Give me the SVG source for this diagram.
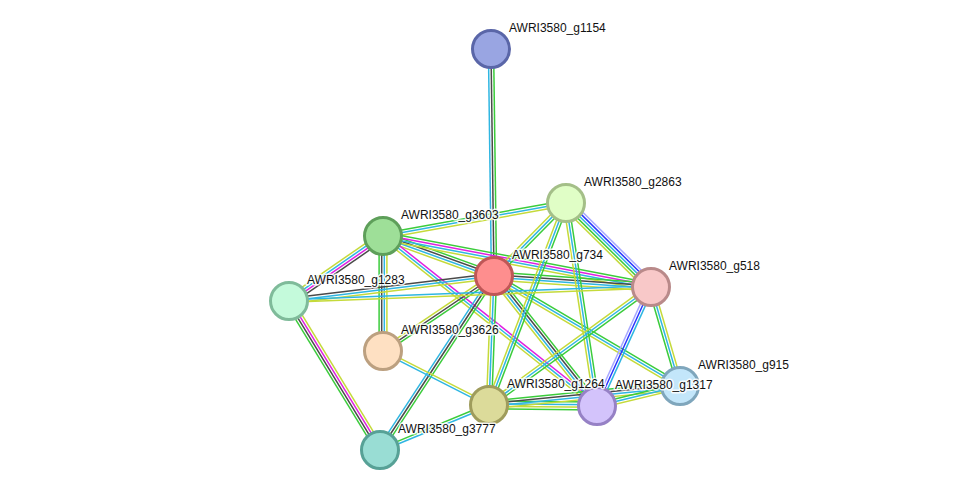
<svg xmlns="http://www.w3.org/2000/svg" width="976" height="496" viewBox="0 0 976 496">
<style>
line{stroke-width:1.5;fill:none}
.g{stroke:#3bcc3b}.k{stroke:#4a4a4a}.c{stroke:#2fb6e2}.y{stroke:#c5da3a}.m{stroke:#e020e0}.b{stroke:#2a35ff}.p{stroke:#a8a8ff}
.n circle{stroke-width:3}
text{font-family:"Liberation Sans",Arial,sans-serif;font-size:12px;fill:#111;stroke:#fff;stroke-width:3;stroke-opacity:0.85;paint-order:stroke;stroke-linejoin:round}
</style>
<rect width="976" height="496" fill="#fff"/>
<g id="connectors">
<g transform="translate(491 49) rotate(89.24)"><line x2="227" y1="-2.6" y2="-2.6" class="g"/><line x2="227" class="k"/><line x2="227" y1="2.6" y2="2.6" class="c"/></g>
<g transform="translate(383 236) rotate(-10.22)"><line x2="186" y1="-2.6" y2="-2.6" class="g"/><line x2="186" class="c"/><line x2="186" y1="2.6" y2="2.6" class="y"/></g>
<g transform="translate(383 236) rotate(19.82)"><line x2="118" y1="-3.9" y2="-3.9" class="g"/><line x2="118" y1="-1.3" y2="-1.3" class="k"/><line x2="118" y1="1.3" y2="1.3" class="c"/><line x2="118" y1="3.9" y2="3.9" class="y"/></g>
<g transform="translate(383 236) rotate(10.77)"><line x2="273" y1="-3.9" y2="-3.9" class="g"/><line x2="273" y1="-1.3" y2="-1.3" class="m"/><line x2="273" y1="1.3" y2="1.3" class="c"/><line x2="273" y1="3.9" y2="3.9" class="y"/></g>
<g transform="translate(383 236) rotate(145.34)"><line x2="114" y1="-3.9" y2="-3.9" class="k"/><line x2="114" y1="-1.3" y2="-1.3" class="m"/><line x2="114" y1="1.3" y2="1.3" class="c"/><line x2="114" y1="3.9" y2="3.9" class="y"/></g>
<g transform="translate(383 236) rotate(90)"><line x2="115" y1="-3.9" y2="-3.9" class="y"/><line x2="115" y1="-1.3" y2="-1.3" class="c"/><line x2="115" y1="1.3" y2="1.3" class="k"/><line x2="115" y1="3.9" y2="3.9" class="g"/></g>
<g transform="translate(383 236) rotate(38.46)"><line x2="273" y1="-2.6" y2="-2.6" class="m"/><line x2="273" class="c"/><line x2="273" y1="2.6" y2="2.6" class="y"/></g>
<g transform="translate(494 276) rotate(173.05)"><line x2="206" y1="-2.6" y2="-2.6" class="y"/><line x2="206" class="c"/><line x2="206" y1="2.6" y2="2.6" class="k"/></g>
<g transform="translate(494 276) rotate(4.01)"><line x2="157" y1="-3.9" y2="-3.9" class="g"/><line x2="157" y1="-1.3" y2="-1.3" class="k"/><line x2="157" y1="1.3" y2="1.3" class="c"/><line x2="157" y1="3.9" y2="3.9" class="y"/></g>
<g transform="translate(494 276) rotate(-45.4)"><line x2="102" y1="-2.6" y2="-2.6" class="y"/><line x2="102" class="c"/><line x2="102" y1="2.6" y2="2.6" class="g"/></g>
<g transform="translate(494 276) rotate(145.96)"><line x2="134" y1="-2.6" y2="-2.6" class="g"/><line x2="134" class="k"/><line x2="134" y1="2.6" y2="2.6" class="y"/></g>
<g transform="translate(494 276) rotate(123.23)"><line x2="208" y1="-2.6" y2="-2.6" class="g"/><line x2="208" class="k"/><line x2="208" y1="2.6" y2="2.6" class="c"/></g>
<g transform="translate(494 276) rotate(92.22)"><line x2="129" y1="-2.6" y2="-2.6" class="g"/><line x2="129" class="c"/><line x2="129" y1="2.6" y2="2.6" class="y"/></g>
<g transform="translate(494 276) rotate(51.61)"><line x2="166" y1="-3.9" y2="-3.9" class="g"/><line x2="166" y1="-1.3" y2="-1.3" class="k"/><line x2="166" y1="1.3" y2="1.3" class="c"/><line x2="166" y1="3.9" y2="3.9" class="y"/></g>
<g transform="translate(494 276) rotate(30.6)"><line x2="216" y1="-2.6" y2="-2.6" class="g"/><line x2="216" class="c"/><line x2="216" y1="2.6" y2="2.6" class="y"/></g>
<g transform="translate(566 203) rotate(44.66)"><line x2="119" y1="-5.2" y2="-5.2" class="p"/><line x2="119" y1="-2.6" y2="-2.6" class="b"/><line x2="119" class="c"/><line x2="119" y1="2.6" y2="2.6" class="g"/><line x2="119" y1="5.2" y2="5.2" class="y"/></g>
<g transform="translate(566 203) rotate(110.87)"><line x2="216" y1="-2.6" y2="-2.6" class="g"/><line x2="216" class="c"/><line x2="216" y1="2.6" y2="2.6" class="y"/></g>
<g transform="translate(566 203) rotate(81.32)"><line x2="205" y1="-2.6" y2="-2.6" class="g"/><line x2="205" class="c"/><line x2="205" y1="2.6" y2="2.6" class="y"/></g>
<g transform="translate(383 351) rotate(26.99)"><line x2="119" y1="-1.3" y2="-1.3" class="y"/><line x2="119" y1="1.3" y2="1.3" class="c"/></g>
<g transform="translate(289 301) rotate(58.58)"><line x2="175" y1="-3.9" y2="-3.9" class="y"/><line x2="175" y1="-1.3" y2="-1.3" class="m"/><line x2="175" y1="1.3" y2="1.3" class="k"/><line x2="175" y1="3.9" y2="3.9" class="g"/></g>
<g transform="translate(489 405) rotate(157.57)"><line x2="118" y1="-1.3" y2="-1.3" class="c"/><line x2="118" y1="1.3" y2="1.3" class="g"/></g>
<g transform="translate(489 405) rotate(0.53)"><line x2="108" y1="-3.9" y2="-3.9" class="g"/><line x2="108" y1="-1.3" y2="-1.3" class="c"/><line x2="108" y1="1.3" y2="1.3" class="y"/><line x2="108" y1="3.9" y2="3.9" class="g"/></g>
<g transform="translate(489 405) rotate(-5.68)"><line x2="192" y1="-3.9" y2="-3.9" class="g"/><line x2="192" y1="-1.3" y2="-1.3" class="k"/><line x2="192" y1="1.3" y2="1.3" class="c"/><line x2="192" y1="3.9" y2="3.9" class="y"/></g>
<g transform="translate(597 406) rotate(-13.55)"><line x2="85" y1="-2.6" y2="-2.6" class="g"/><line x2="85" class="c"/><line x2="85" y1="2.6" y2="2.6" class="y"/></g>
<g transform="translate(651 287) rotate(114.41)"><line x2="131" y1="-2.6" y2="-2.6" class="c"/><line x2="131" class="b"/><line x2="131" y1="2.6" y2="2.6" class="p"/></g>
<g transform="translate(651 287) rotate(73.67)"><line x2="103" y1="-2.6" y2="-2.6" class="y"/><line x2="103" class="c"/><line x2="103" y1="2.6" y2="2.6" class="g"/></g>
<g transform="translate(651 287) rotate(143.93)"><line x2="200" y1="-2.6" y2="-2.6" class="g"/><line x2="200" class="c"/><line x2="200" y1="2.6" y2="2.6" class="y"/></g>
<g transform="translate(289 301) rotate(-2.21)"><line x2="362" y1="-1.3" y2="-1.3" class="c"/><line x2="362" y1="1.3" y2="1.3" class="y"/></g>
</g>
<g id="g1154" class="n"><circle cx="491" cy="49" r="18.5" fill="#99a5e2" stroke="#5a66a8"/><text x="509" y="32">AWRI3580_g1154</text></g>
<g id="g2863" class="n"><circle cx="566" cy="203" r="18.5" fill="#e0fec6" stroke="#a4bf88"/><text x="584" y="186">AWRI3580_g2863</text></g>
<g id="g3603" class="n"><circle cx="383" cy="236" r="18.5" fill="#9edf98" stroke="#5e9f5a"/><text x="401" y="219">AWRI3580_g3603</text></g>
<g id="g734" class="n"><circle cx="494" cy="276" r="18.5" fill="#fe8e8e" stroke="#bf5757"/><text x="512" y="259">AWRI3580_g734</text></g>
<g id="g518" class="n"><circle cx="651" cy="287" r="18.5" fill="#f8c8c8" stroke="#b98a8a"/><text x="669" y="270">AWRI3580_g518</text></g>
<g id="g1283" class="n"><circle cx="289" cy="301" r="18.5" fill="#c4fadb" stroke="#7fbb9a"/><text x="307" y="284">AWRI3580_g1283</text></g>
<g id="g3626" class="n"><circle cx="383" cy="351" r="18.5" fill="#fee0c2" stroke="#bca080"/><text x="401" y="334">AWRI3580_g3626</text></g>
<g id="g915" class="n"><circle cx="680" cy="386" r="18.5" fill="#c3e6fa" stroke="#7fa6bc"/><text x="698" y="369">AWRI3580_g915</text></g>
<g id="g1317" class="n"><circle cx="597" cy="406" r="18.5" fill="#d3c3fb" stroke="#9681c5"/><text x="615" y="389">AWRI3580_g1317</text></g>
<g id="g1264" class="n"><circle cx="489" cy="405" r="18.5" fill="#dcdb9a" stroke="#9f9c5c"/><text x="507" y="388">AWRI3580_g1264</text></g>
<g id="g3777" class="n"><circle cx="380" cy="450" r="18.5" fill="#99ddd4" stroke="#57a196"/><text x="398" y="433">AWRI3580_g3777</text></g>
</svg>
